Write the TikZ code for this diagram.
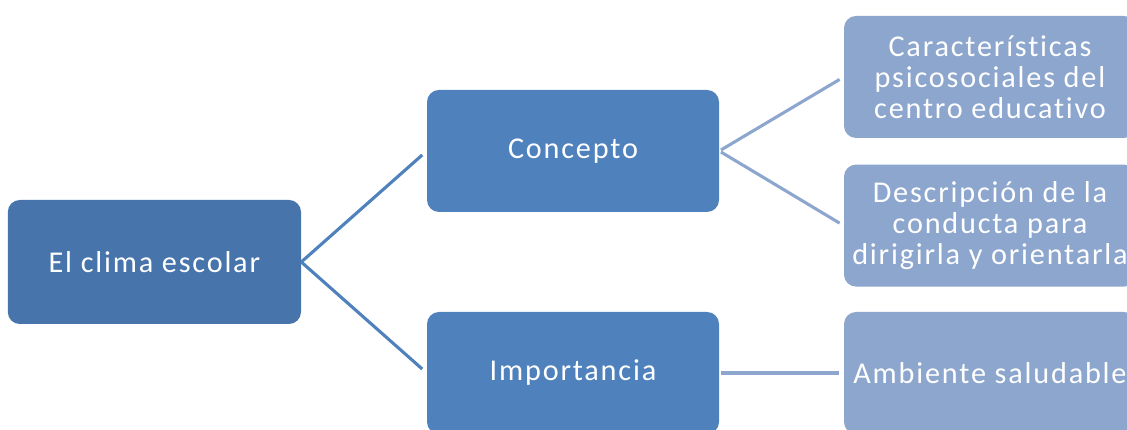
\documentclass[tikz,border=0pt]{standalone}
\usepackage{fontspec}
\setmainfont[LetterSpace=6,Ligatures=NoCommon]{Carlito}
\usetikzlibrary{positioning}

\definecolor{rootblue}{RGB}{70,116,171}
\definecolor{midblue}{RGB}{79,129,189}
\definecolor{leafblue}{RGB}{141,166,206}

\begin{document}
\begin{tikzpicture}[
    rootnode/.style={fill=rootblue, text=white, rounded corners=0.3cm, minimum width=7.33cm, minimum height=3.1cm, font=\fontsize{21.5}{25}\selectfont, align=center},
    midnode/.style={fill=midblue, text=white, rounded corners=0.3cm, minimum width=7.3cm, minimum height=3.05cm, font=\fontsize{21.5}{25}\selectfont, align=center},
    leafnode/.style={fill=leafblue, text=white, rounded corners=0.3cm, minimum width=7.3cm, minimum height=3.05cm, font=\fontsize{21.5}{22}\selectfont, align=center},
    midline/.style={line width=2.2pt, midblue, shorten >=0.15cm},
    leafline/.style={line width=2.2pt, leafblue, shorten <=0.05cm, shorten >=0.12cm}
]
% Page frame
\clip (0,0) rectangle (28.175,10.75);
\fill[white] (0,0) rectangle (28.175,10.75);

% Root
\node[rootnode] (clima) at (3.86,4.2) {El clima escolar};

% Second level
\node[midnode] (concepto) at (14.325,6.975) {Concepto};
\node[midnode] (importancia) at (14.325,1.425) {Importancia};

% Third level
\node[leafnode] (caract) at (24.75,8.825) {Características\\psicosociales del\\centro educativo};
\node[leafnode] (descr) at (24.75,5.11) {Descripción de la\\conducta para\\dirigirla y orientarla};
\node[leafnode] (ambiente) at (24.75,1.425) {Ambiente saludable};

% Connectors
\draw[midline] (clima.east) -- (concepto.west);
\draw[midline] (clima.east) -- (importancia.west);
\draw[leafline] (concepto.east) -- (caract.west);
\draw[leafline] (concepto.east) -- (descr.west);
\draw[leafline] (importancia.east) -- (ambiente.west);

\end{tikzpicture}
\end{document}
